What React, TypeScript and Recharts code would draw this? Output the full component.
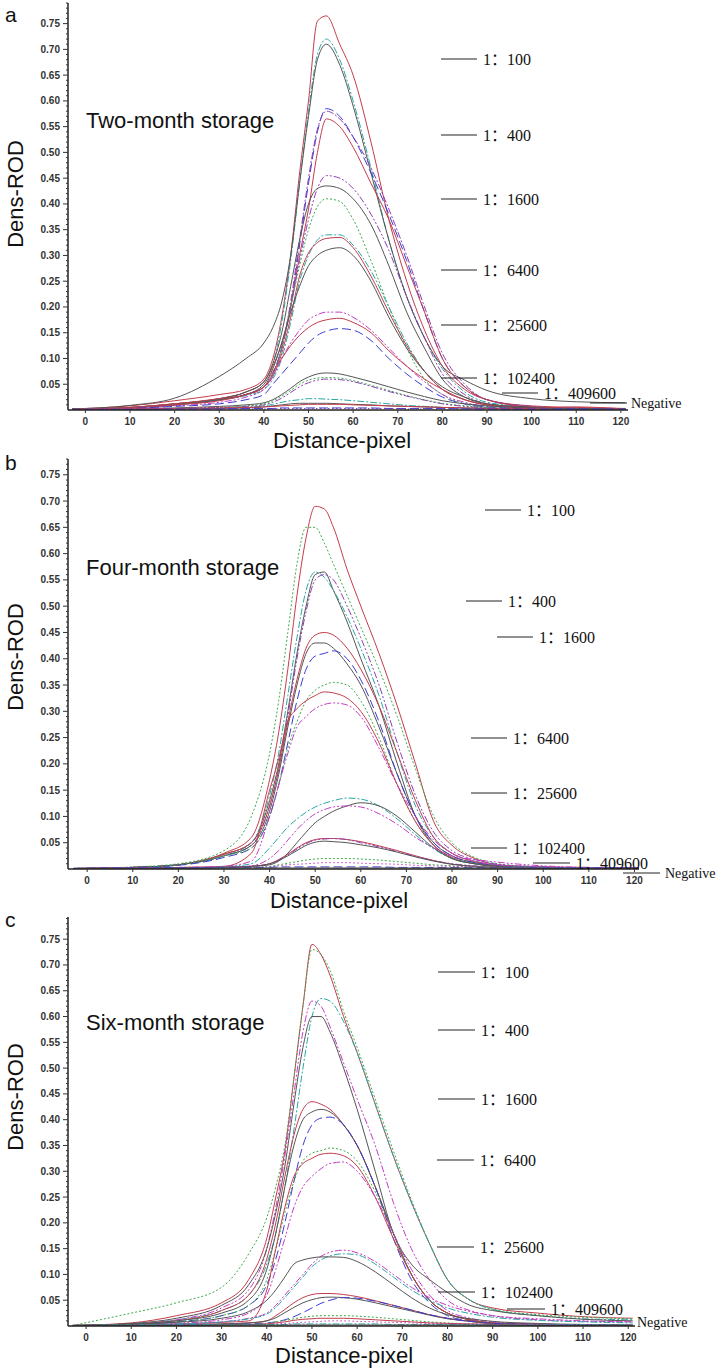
import React from 'react';
import { LineChart, Line, XAxis, YAxis } from 'recharts';

// distance (pixel) sample points shared by every curve
const distance = [-3, 10, 20, 30, 36, 40, 42, 44, 46, 48, 50, 52, 54, 57, 60, 64, 68, 72, 76, 80, 85, 90, 100, 110, 121];

const xTickLabels = [0, 10, 20, 30, 40, 50, 60, 70, 80, 90, 100, 110, 120];
const yTickLabels = [0.05, 0.1, 0.15, 0.2, 0.25, 0.3, 0.35, 0.4, 0.45, 0.5, 0.55, 0.6, 0.65, 0.7, 0.75];
const dilutionLabels = ['1：100', '1：400', '1：1600', '1：6400', '1：25600', '1：102400', '1：409600', 'Negative'];
const panelTitles = ['Two-month storage', 'Four-month storage', 'Six-month storage'];
const panelLetters = ['a', 'b', 'c'];

// ---- a: two-month storage ----
const a100Red = [0.002, 0.008, 0.018, 0.03, 0.04, 0.06, 0.1, 0.18, 0.3, 0.46, 0.6, 0.755, 0.765, 0.71, 0.65, 0.52, 0.37, 0.25, 0.155, 0.085, 0.04, 0.02, 0.008, 0.005, 0.003];
const a100Teal = [0.001, 0.005, 0.012, 0.022, 0.035, 0.055, 0.09, 0.17, 0.29, 0.44, 0.58, 0.69, 0.72, 0.68, 0.6, 0.47, 0.33, 0.22, 0.14, 0.08, 0.035, 0.015, 0.006, 0.003, 0.002];
const a100Gray = [0.002, 0.009, 0.023, 0.065, 0.1, 0.13, 0.16, 0.21, 0.3, 0.44, 0.57, 0.68, 0.71, 0.67, 0.59, 0.46, 0.33, 0.22, 0.14, 0.085, 0.058, 0.038, 0.022, 0.016, 0.014];
const a400Blue = [0.001, 0.004, 0.01, 0.02, 0.03, 0.045, 0.07, 0.12, 0.2, 0.32, 0.44, 0.54, 0.585, 0.57, 0.53, 0.46, 0.38, 0.29, 0.19, 0.1, 0.045, 0.02, 0.006, 0.003, 0.002];
const a400Purple = [0.001, 0.004, 0.01, 0.02, 0.03, 0.045, 0.07, 0.12, 0.21, 0.33, 0.45, 0.545, 0.58, 0.565, 0.53, 0.47, 0.39, 0.3, 0.2, 0.11, 0.05, 0.02, 0.007, 0.003, 0.002];
const a400Red = [0.001, 0.005, 0.012, 0.022, 0.035, 0.055, 0.085, 0.13, 0.2, 0.3, 0.39, 0.5, 0.565, 0.55, 0.51, 0.44, 0.37, 0.28, 0.19, 0.1, 0.045, 0.02, 0.006, 0.003, 0.002];
const a1600Purple = [0.001, 0.004, 0.01, 0.02, 0.03, 0.045, 0.07, 0.12, 0.2, 0.29, 0.37, 0.43, 0.455, 0.45, 0.43, 0.38, 0.31, 0.22, 0.14, 0.07, 0.03, 0.012, 0.004, 0.002, 0.001];
const a1600Gray = [0.002, 0.005, 0.012, 0.022, 0.035, 0.055, 0.09, 0.15, 0.24, 0.33, 0.4, 0.43, 0.435, 0.43, 0.41, 0.36, 0.28, 0.19, 0.12, 0.06, 0.025, 0.012, 0.005, 0.003, 0.002];
const a1600Green = [0.001, 0.004, 0.01, 0.02, 0.03, 0.045, 0.07, 0.12, 0.2, 0.28, 0.35, 0.395, 0.41, 0.405, 0.37, 0.29, 0.2, 0.12, 0.06, 0.03, 0.012, 0.005, 0.002, 0.001, 0.001];
const a6400Teal = [0.001, 0.004, 0.01, 0.02, 0.028, 0.04, 0.06, 0.1, 0.17, 0.25, 0.3, 0.33, 0.34, 0.34, 0.32, 0.27, 0.2, 0.13, 0.075, 0.04, 0.02, 0.01, 0.004, 0.002, 0.001];
const a6400Red = [0.001, 0.005, 0.012, 0.022, 0.03, 0.045, 0.065, 0.11, 0.18, 0.26, 0.305, 0.325, 0.333, 0.335, 0.315, 0.26, 0.19, 0.125, 0.075, 0.04, 0.02, 0.01, 0.004, 0.002, 0.001];
const a6400Gray = [0.001, 0.004, 0.01, 0.02, 0.03, 0.05, 0.08, 0.13, 0.19, 0.24, 0.28, 0.3, 0.31, 0.315, 0.3, 0.25, 0.18, 0.12, 0.075, 0.045, 0.025, 0.012, 0.005, 0.003, 0.002];
const a25600Purple = [0.001, 0.003, 0.008, 0.015, 0.025, 0.04, 0.065, 0.1, 0.13, 0.155, 0.175, 0.185, 0.19, 0.19, 0.18, 0.155, 0.12, 0.085, 0.055, 0.03, 0.015, 0.007, 0.003, 0.002, 0.001];
const a25600Red = [0.001, 0.004, 0.01, 0.018, 0.03, 0.045, 0.075, 0.1, 0.125, 0.145, 0.16, 0.17, 0.175, 0.178, 0.17, 0.15, 0.115, 0.085, 0.06, 0.04, 0.02, 0.01, 0.004, 0.002, 0.001];
const a25600Blue = [0.001, 0.003, 0.007, 0.012, 0.02, 0.03, 0.05, 0.07, 0.09, 0.11, 0.13, 0.145, 0.153, 0.158, 0.155, 0.135, 0.1, 0.07, 0.045, 0.025, 0.012, 0.006, 0.003, 0.002, 0.001];
const a102400Gray = [0.001, 0.002, 0.004, 0.007, 0.01, 0.014, 0.02, 0.03, 0.042, 0.055, 0.064, 0.07, 0.072, 0.07, 0.064, 0.055, 0.045, 0.035, 0.026, 0.018, 0.012, 0.008, 0.004, 0.002, 0.001];
const a102400Green = [0.001, 0.002, 0.003, 0.005, 0.008, 0.012, 0.018, 0.027, 0.038, 0.05, 0.058, 0.062, 0.063, 0.062, 0.057, 0.048, 0.038, 0.028, 0.02, 0.013, 0.008, 0.005, 0.002, 0.001, 0.001];
const a102400Purple = [0.001, 0.002, 0.003, 0.005, 0.007, 0.01, 0.015, 0.023, 0.034, 0.045, 0.053, 0.058, 0.06, 0.059, 0.055, 0.046, 0.036, 0.027, 0.019, 0.012, 0.007, 0.004, 0.002, 0.001, 0.001];
const a409600Teal = [0, 0.001, 0.002, 0.003, 0.005, 0.008, 0.011, 0.015, 0.018, 0.02, 0.022, 0.022, 0.021, 0.02, 0.018, 0.015, 0.012, 0.009, 0.007, 0.005, 0.003, 0.002, 0.001, 0.001, 0.001];
const a409600Gray = [0, 0.001, 0.002, 0.003, 0.004, 0.006, 0.008, 0.01, 0.012, 0.013, 0.013, 0.013, 0.013, 0.012, 0.011, 0.01, 0.008, 0.007, 0.006, 0.005, 0.004, 0.003, 0.002, 0.002, 0.002];
const a409600Red = [0.001, 0.002, 0.003, 0.004, 0.005, 0.006, 0.007, 0.008, 0.009, 0.01, 0.011, 0.011, 0.011, 0.011, 0.01, 0.009, 0.008, 0.007, 0.006, 0.005, 0.004, 0.003, 0.003, 0.006, 0.002];
const aNegBlue = [0.001, 0.001, 0.002, 0.002, 0.003, 0.003, 0.003, 0.004, 0.004, 0.004, 0.004, 0.004, 0.004, 0.004, 0.004, 0.004, 0.003, 0.003, 0.003, 0.003, 0.002, 0.002, 0.002, 0.002, 0.002];
const aNegPurple = [0.001, 0.002, 0.002, 0.002, 0.002, 0.002, 0.002, 0.003, 0.003, 0.003, 0.003, 0.003, 0.003, 0.003, 0.003, 0.003, 0.003, 0.002, 0.002, 0.002, 0.002, 0.002, 0.001, 0.001, 0.001];

// ---- b: four-month storage ----
const b100Red = [0.001, 0.003, 0.008, 0.03, 0.06, 0.17, 0.26, 0.38, 0.52, 0.63, 0.69, 0.685, 0.65, 0.57, 0.5, 0.41, 0.31, 0.2, 0.09, 0.045, 0.02, 0.008, 0.004, 0.003, 0.002];
const b100Green = [0.001, 0.004, 0.01, 0.035, 0.1, 0.22, 0.32, 0.45, 0.58, 0.65, 0.65, 0.62, 0.58, 0.52, 0.46, 0.38, 0.29, 0.19, 0.1, 0.05, 0.022, 0.01, 0.004, 0.002, 0.001];
const b400Gray = [0.001, 0.003, 0.008, 0.028, 0.05, 0.13, 0.2, 0.3, 0.41, 0.5, 0.56, 0.565, 0.53, 0.47, 0.4, 0.31, 0.2, 0.1, 0.045, 0.02, 0.01, 0.005, 0.003, 0.002, 0.001];
const b400Teal = [0.001, 0.003, 0.008, 0.025, 0.05, 0.14, 0.22, 0.33, 0.44, 0.53, 0.565, 0.555, 0.53, 0.48, 0.42, 0.33, 0.22, 0.12, 0.06, 0.03, 0.015, 0.007, 0.003, 0.002, 0.001];
const b400Purple = [0.001, 0.003, 0.008, 0.025, 0.045, 0.12, 0.19, 0.29, 0.4, 0.49, 0.55, 0.56, 0.55, 0.5, 0.44, 0.35, 0.24, 0.14, 0.07, 0.035, 0.018, 0.009, 0.004, 0.002, 0.001];
const b1600Red = [0.001, 0.003, 0.008, 0.028, 0.05, 0.12, 0.19, 0.28, 0.36, 0.42, 0.445, 0.45, 0.445, 0.42, 0.38, 0.31, 0.22, 0.13, 0.06, 0.03, 0.014, 0.006, 0.003, 0.002, 0.001];
const b1600Gray = [0.001, 0.003, 0.008, 0.025, 0.045, 0.11, 0.18, 0.27, 0.35, 0.41, 0.43, 0.43, 0.42, 0.39, 0.35, 0.27, 0.18, 0.1, 0.05, 0.025, 0.012, 0.006, 0.003, 0.002, 0.001];
const b1600Blue = [0.001, 0.003, 0.007, 0.022, 0.04, 0.1, 0.16, 0.24, 0.32, 0.38, 0.405, 0.41, 0.415, 0.4, 0.36, 0.28, 0.18, 0.1, 0.05, 0.025, 0.012, 0.006, 0.003, 0.002, 0.001];
const b6400Green = [0.001, 0.003, 0.008, 0.025, 0.04, 0.1, 0.16, 0.23, 0.28, 0.32, 0.34, 0.35, 0.355, 0.35, 0.32, 0.25, 0.16, 0.09, 0.045, 0.022, 0.01, 0.005, 0.003, 0.002, 0.001];
const b6400Red = [0.001, 0.002, 0.003, 0.005, 0.03, 0.15, 0.21, 0.28, 0.305, 0.32, 0.33, 0.337, 0.335, 0.325, 0.3, 0.24, 0.16, 0.09, 0.045, 0.022, 0.01, 0.005, 0.002, 0.001, 0.001];
const b6400Purple = [0.001, 0.002, 0.003, 0.005, 0.015, 0.1, 0.16, 0.22, 0.27, 0.29, 0.305, 0.313, 0.316, 0.312, 0.29, 0.23, 0.16, 0.1, 0.055, 0.03, 0.015, 0.008, 0.004, 0.002, 0.001];
const b25600Teal = [0, 0.001, 0.002, 0.004, 0.01, 0.04, 0.06, 0.08, 0.095, 0.108, 0.118, 0.125, 0.13, 0.135, 0.133, 0.12, 0.095, 0.065, 0.038, 0.02, 0.01, 0.005, 0.003, 0.002, 0.001];
const b25600Gray = [0, 0.001, 0.002, 0.003, 0.005, 0.008, 0.015, 0.03, 0.05, 0.07, 0.088, 0.1, 0.11, 0.12, 0.126, 0.12, 0.1, 0.07, 0.04, 0.02, 0.01, 0.005, 0.002, 0.001, 0.001];
const b25600Purple = [0, 0.001, 0.002, 0.003, 0.006, 0.02, 0.035, 0.055, 0.075, 0.092, 0.105, 0.113, 0.118, 0.12, 0.118, 0.105, 0.085, 0.06, 0.04, 0.025, 0.018, 0.013, 0.006, 0.003, 0.002];
const b102400Red = [0, 0.001, 0.002, 0.003, 0.005, 0.01, 0.018, 0.028, 0.04, 0.05, 0.056, 0.058, 0.058, 0.056, 0.052, 0.044, 0.035, 0.025, 0.016, 0.009, 0.005, 0.003, 0.002, 0.001, 0.001];
const b102400Purple = [0, 0.001, 0.002, 0.003, 0.005, 0.01, 0.017, 0.027, 0.038, 0.048, 0.055, 0.057, 0.058, 0.056, 0.05, 0.042, 0.033, 0.024, 0.016, 0.01, 0.006, 0.003, 0.002, 0.001, 0.001];
const b102400Gray = [0, 0.001, 0.002, 0.003, 0.005, 0.01, 0.016, 0.025, 0.035, 0.045, 0.051, 0.053, 0.052, 0.05, 0.046, 0.04, 0.032, 0.023, 0.015, 0.009, 0.005, 0.003, 0.002, 0.001, 0.001];
const b409600Green = [0, 0.001, 0.001, 0.002, 0.003, 0.005, 0.008, 0.011, 0.014, 0.017, 0.019, 0.02, 0.02, 0.02, 0.019, 0.017, 0.014, 0.011, 0.008, 0.006, 0.004, 0.003, 0.002, 0.001, 0.001];
const b409600Magenta = [0, 0.001, 0.001, 0.002, 0.003, 0.004, 0.006, 0.008, 0.009, 0.01, 0.011, 0.012, 0.012, 0.012, 0.011, 0.01, 0.009, 0.007, 0.006, 0.005, 0.004, 0.003, 0.002, 0.001, 0.001];
const bNegBlue = [0.001, 0.002, 0.002, 0.003, 0.003, 0.003, 0.004, 0.004, 0.004, 0.004, 0.004, 0.004, 0.004, 0.004, 0.004, 0.004, 0.003, 0.003, 0.003, 0.003, 0.003, 0.002, 0.002, 0.002, 0.002];
const bNegGray = [0.001, 0.001, 0.001, 0.002, 0.002, 0.002, 0.002, 0.002, 0.002, 0.002, 0.002, 0.002, 0.002, 0.002, 0.002, 0.002, 0.002, 0.002, 0.002, 0.002, 0.002, 0.002, 0.001, 0.001, 0.001];

// ---- c: six-month storage ----
const c100Red = [0.001, 0.006, 0.02, 0.045, 0.09, 0.17, 0.25, 0.34, 0.48, 0.62, 0.74, 0.72, 0.68, 0.6, 0.53, 0.43, 0.33, 0.24, 0.16, 0.09, 0.05, 0.035, 0.025, 0.018, 0.015];
const c100Green = [0.001, 0.025, 0.045, 0.075, 0.14, 0.21, 0.27, 0.35, 0.48, 0.62, 0.73, 0.72, 0.69, 0.61, 0.54, 0.44, 0.34, 0.245, 0.16, 0.09, 0.05, 0.033, 0.022, 0.017, 0.014];
const c400Teal = [0.001, 0.004, 0.012, 0.03, 0.06, 0.12, 0.18, 0.27, 0.38, 0.5, 0.6, 0.635, 0.63, 0.59, 0.53, 0.43, 0.33, 0.24, 0.16, 0.09, 0.05, 0.032, 0.02, 0.014, 0.012];
const c400Purple = [0.001, 0.004, 0.012, 0.035, 0.07, 0.15, 0.23, 0.33, 0.45, 0.57, 0.63, 0.62, 0.58, 0.51, 0.44, 0.35, 0.24, 0.15, 0.09, 0.05, 0.03, 0.02, 0.012, 0.009, 0.008];
const c400Gray = [0.001, 0.005, 0.015, 0.04, 0.08, 0.15, 0.22, 0.31, 0.43, 0.54, 0.6, 0.6, 0.57, 0.5, 0.42, 0.3, 0.18, 0.12, 0.09, 0.065, 0.04, 0.03, 0.02, 0.013, 0.01];
const c1600Red = [0.001, 0.004, 0.01, 0.03, 0.06, 0.13, 0.2, 0.29, 0.37, 0.42, 0.435, 0.43, 0.42, 0.39, 0.35, 0.27, 0.18, 0.1, 0.05, 0.025, 0.012, 0.006, 0.003, 0.002, 0.001];
const c1600Gray = [0.001, 0.004, 0.01, 0.025, 0.05, 0.11, 0.18, 0.27, 0.35, 0.4, 0.415, 0.42, 0.415, 0.39, 0.35, 0.27, 0.18, 0.1, 0.05, 0.025, 0.012, 0.006, 0.003, 0.002, 0.001];
const c1600Blue = [0.001, 0.003, 0.008, 0.02, 0.04, 0.08, 0.13, 0.2, 0.28, 0.35, 0.39, 0.403, 0.405, 0.39, 0.35, 0.27, 0.17, 0.09, 0.045, 0.02, 0.01, 0.005, 0.003, 0.002, 0.001];
const c6400Green = [0.001, 0.003, 0.008, 0.02, 0.04, 0.09, 0.15, 0.22, 0.28, 0.32, 0.335, 0.34, 0.345, 0.34, 0.32, 0.26, 0.18, 0.1, 0.05, 0.025, 0.012, 0.006, 0.003, 0.002, 0.001];
const c6400Red = [0.001, 0.002, 0.004, 0.007, 0.01, 0.07, 0.15, 0.23, 0.29, 0.315, 0.325, 0.333, 0.335, 0.33, 0.31, 0.25, 0.17, 0.1, 0.05, 0.025, 0.012, 0.006, 0.003, 0.002, 0.001];
const c6400Purple = [0.001, 0.002, 0.005, 0.012, 0.025, 0.06, 0.11, 0.17, 0.23, 0.27, 0.29, 0.305, 0.315, 0.318, 0.3, 0.25, 0.18, 0.11, 0.06, 0.03, 0.015, 0.008, 0.004, 0.002, 0.001];
const c25600Purple = [0, 0.002, 0.004, 0.008, 0.015, 0.025, 0.04, 0.06, 0.08, 0.1, 0.12, 0.135, 0.143, 0.147, 0.142, 0.125, 0.1, 0.075, 0.055, 0.04, 0.028, 0.02, 0.014, 0.01, 0.008];
const c25600Teal = [0, 0.002, 0.004, 0.008, 0.014, 0.023, 0.036, 0.055, 0.075, 0.095, 0.115, 0.128, 0.136, 0.14, 0.138, 0.12, 0.095, 0.07, 0.05, 0.035, 0.024, 0.017, 0.011, 0.008, 0.006];
const c25600Gray = [0.001, 0.003, 0.007, 0.015, 0.028, 0.05, 0.07, 0.095, 0.12, 0.128, 0.132, 0.134, 0.134, 0.133, 0.125, 0.105, 0.08, 0.055, 0.035, 0.022, 0.014, 0.009, 0.005, 0.003, 0.002];
const c102400Red = [0, 0.001, 0.002, 0.004, 0.006, 0.01, 0.02, 0.032, 0.045, 0.055, 0.061, 0.063, 0.063, 0.061, 0.057, 0.049, 0.04, 0.031, 0.022, 0.015, 0.009, 0.005, 0.003, 0.002, 0.001];
const c102400Gray = [0, 0.001, 0.002, 0.004, 0.006, 0.01, 0.016, 0.026, 0.036, 0.045, 0.051, 0.055, 0.056, 0.055, 0.052, 0.045, 0.037, 0.029, 0.021, 0.014, 0.009, 0.005, 0.003, 0.002, 0.001];
const c102400Blue = [0, 0.001, 0.002, 0.003, 0.004, 0.006, 0.008, 0.012, 0.018, 0.026, 0.035, 0.044, 0.05, 0.055, 0.054, 0.048, 0.04, 0.031, 0.022, 0.015, 0.009, 0.005, 0.003, 0.002, 0.001];
const c409600Green = [0, 0.001, 0.001, 0.002, 0.003, 0.005, 0.008, 0.011, 0.014, 0.017, 0.019, 0.02, 0.02, 0.02, 0.019, 0.017, 0.014, 0.011, 0.008, 0.006, 0.004, 0.003, 0.002, 0.001, 0.001];
const c409600Red = [0, 0.001, 0.001, 0.002, 0.003, 0.004, 0.006, 0.008, 0.011, 0.013, 0.014, 0.015, 0.015, 0.015, 0.014, 0.012, 0.01, 0.008, 0.006, 0.005, 0.004, 0.003, 0.002, 0.001, 0.001];
const c409600Magenta = [0, 0.001, 0.001, 0.002, 0.002, 0.003, 0.004, 0.005, 0.006, 0.007, 0.008, 0.009, 0.01, 0.01, 0.009, 0.008, 0.007, 0.006, 0.005, 0.004, 0.004, 0.003, 0.003, 0.002, 0.002];
const cNegTeal = [0.001, 0.002, 0.002, 0.003, 0.003, 0.003, 0.003, 0.003, 0.004, 0.004, 0.004, 0.004, 0.004, 0.004, 0.004, 0.004, 0.003, 0.003, 0.003, 0.003, 0.003, 0.002, 0.002, 0.002, 0.002];
const cNegGray = [0.001, 0.001, 0.001, 0.002, 0.002, 0.002, 0.002, 0.002, 0.002, 0.002, 0.002, 0.002, 0.002, 0.002, 0.002, 0.002, 0.002, 0.002, 0.002, 0.002, 0.002, 0.002, 0.001, 0.001, 0.001];

const RED = '#c43c4c';
const GRAY = '#555555';
const GREEN = '#3cab4c';
const TEAL = '#2ba7a3';
const BLUE = '#3c3cd2';
const PURPLE = '#8e3fb4';
const MAGENTA = '#c43cc4';

const DOT = '2 2';
const DASHDOT = '7 2 2 2';
const DASH = '9 4';
const DASHDOTDOT = '7 2 2 2 2 2';
const FINE = '1.5 2.5';

type Series = { key: string; values: number[]; color: string; dash?: string };

const twoMonth: Series[] = [
  { key: 'r100', values: a100Red, color: RED },
  { key: 't100', values: a100Teal, color: TEAL, dash: DASHDOT },
  { key: 'g100', values: a100Gray, color: GRAY },
  { key: 'b400', values: a400Blue, color: BLUE, dash: DASH },
  { key: 'p400', values: a400Purple, color: PURPLE, dash: DASHDOT },
  { key: 'r400', values: a400Red, color: RED },
  { key: 'p1600', values: a1600Purple, color: PURPLE, dash: DASHDOTDOT },
  { key: 'g1600', values: a1600Gray, color: GRAY },
  { key: 'n1600', values: a1600Green, color: GREEN, dash: DOT },
  { key: 't6400', values: a6400Teal, color: TEAL, dash: DASHDOT },
  { key: 'r6400', values: a6400Red, color: RED },
  { key: 'g6400', values: a6400Gray, color: GRAY },
  { key: 'p25600', values: a25600Purple, color: MAGENTA, dash: DASHDOTDOT },
  { key: 'r25600', values: a25600Red, color: RED },
  { key: 'b25600', values: a25600Blue, color: BLUE, dash: DASH },
  { key: 'g102400', values: a102400Gray, color: GRAY },
  { key: 'n102400', values: a102400Green, color: GREEN, dash: DOT },
  { key: 'p102400', values: a102400Purple, color: PURPLE, dash: DASHDOTDOT },
  { key: 't409600', values: a409600Teal, color: TEAL, dash: DASHDOT },
  { key: 'g409600', values: a409600Gray, color: GRAY },
  { key: 'r409600', values: a409600Red, color: RED },
  { key: 'bneg', values: aNegBlue, color: BLUE, dash: DASH },
  { key: 'pneg', values: aNegPurple, color: PURPLE, dash: FINE },
];

const fourMonth: Series[] = [
  { key: 'r100', values: b100Red, color: RED },
  { key: 'n100', values: b100Green, color: GREEN, dash: DOT },
  { key: 'g400', values: b400Gray, color: GRAY },
  { key: 't400', values: b400Teal, color: TEAL, dash: DASHDOT },
  { key: 'p400', values: b400Purple, color: PURPLE, dash: DASHDOTDOT },
  { key: 'r1600', values: b1600Red, color: RED },
  { key: 'g1600', values: b1600Gray, color: GRAY },
  { key: 'b1600', values: b1600Blue, color: BLUE, dash: DASH },
  { key: 'n6400', values: b6400Green, color: GREEN, dash: DOT },
  { key: 'r6400', values: b6400Red, color: RED },
  { key: 'p6400', values: b6400Purple, color: MAGENTA, dash: DASHDOTDOT },
  { key: 't25600', values: b25600Teal, color: TEAL, dash: DASHDOT },
  { key: 'g25600', values: b25600Gray, color: GRAY },
  { key: 'p25600', values: b25600Purple, color: MAGENTA, dash: DASHDOTDOT },
  { key: 'r102400', values: b102400Red, color: RED },
  { key: 'p102400', values: b102400Purple, color: PURPLE, dash: DASHDOTDOT },
  { key: 'g102400', values: b102400Gray, color: GRAY },
  { key: 'n409600', values: b409600Green, color: GREEN, dash: DOT },
  { key: 'm409600', values: b409600Magenta, color: MAGENTA, dash: FINE },
  { key: 'bneg', values: bNegBlue, color: BLUE, dash: DASH },
  { key: 'gneg', values: bNegGray, color: GRAY },
];

const sixMonth: Series[] = [
  { key: 'r100', values: c100Red, color: RED },
  { key: 'n100', values: c100Green, color: GREEN, dash: DOT },
  { key: 't400', values: c400Teal, color: TEAL, dash: DASHDOT },
  { key: 'p400', values: c400Purple, color: MAGENTA, dash: DASHDOTDOT },
  { key: 'g400', values: c400Gray, color: GRAY },
  { key: 'r1600', values: c1600Red, color: RED },
  { key: 'g1600', values: c1600Gray, color: GRAY },
  { key: 'b1600', values: c1600Blue, color: BLUE, dash: DASH },
  { key: 'n6400', values: c6400Green, color: GREEN, dash: DOT },
  { key: 'r6400', values: c6400Red, color: RED },
  { key: 'p6400', values: c6400Purple, color: MAGENTA, dash: DASHDOTDOT },
  { key: 'p25600', values: c25600Purple, color: MAGENTA, dash: DASHDOTDOT },
  { key: 't25600', values: c25600Teal, color: TEAL, dash: DASHDOT },
  { key: 'g25600', values: c25600Gray, color: GRAY },
  { key: 'r102400', values: c102400Red, color: RED },
  { key: 'g102400', values: c102400Gray, color: GRAY },
  { key: 'b102400', values: c102400Blue, color: BLUE, dash: DASH },
  { key: 'n409600', values: c409600Green, color: GREEN, dash: DOT },
  { key: 'r409600', values: c409600Red, color: RED },
  { key: 'm409600', values: c409600Magenta, color: MAGENTA, dash: FINE },
  { key: 'tneg', values: cNegTeal, color: TEAL, dash: DASHDOT },
  { key: 'gneg', values: cNegGray, color: GRAY },
];

const SANS = '"Liberation Sans", Arial, sans-serif';
const SERIF = '"Liberation Serif", "Times New Roman", "Noto Sans CJK SC", serif';
const AXIS_X = 68;
const Y_AXIS_W = 40;

// label positions for the dilution notes: [y, lineStart, lineEnd]
type Note = [number, number, number];

type PanelCfg = {
  series: Series[];
  plotTop: number;
  baseline: number;
  plotRight: number;
  xDomain: [number, number];
  yMax: number;
  letterY: number;
  titleY: number;
  yLabelY: number;
  xLabelX: number;
  xLabelY: number;
  notes: Note[];
  negX: number;
};

const panels: PanelCfg[] = [
  {
    series: twoMonth, plotTop: 3, baseline: 410, plotRight: 628, xDomain: [-3.9, 121.6], yMax: 0.79,
    letterY: 22, titleY: 128, yLabelY: 194, xLabelX: 273, xLabelY: 448, negX: 631,
    notes: [[59, 441, 477], [135, 441, 477], [199, 441, 477], [270, 441, 477], [325, 441, 477], [378, 441, 477], [393, 502, 538], [403, 590, 627]],
  },
  {
    series: fourMonth, plotTop: 459, baseline: 869, plotRight: 639, xDomain: [-4.2, 121], yMax: 0.78,
    letterY: 470, titleY: 575, yLabelY: 657, xLabelX: 270, xLabelY: 908, negX: 665,
    notes: [[510, 485, 521], [601, 466, 502], [637, 497, 533], [738, 471, 507], [793, 471, 507], [848, 471, 507], [863, 533, 570], [873, 623, 660]],
  },
  {
    series: sixMonth, plotTop: 917, baseline: 1326, plotRight: 635, xDomain: [-4, 121.5], yMax: 0.793,
    letterY: 927, titleY: 1030, yLabelY: 1097, xLabelX: 275, xLabelY: 1363, negX: 637,
    notes: [[972, 438, 475], [1030, 438, 475], [1099, 438, 475], [1160, 437, 474], [1247, 437, 474], [1292, 438, 475], [1309, 507, 545], [1322, 0, 0]],
  },
];

const majorSet = new Set(yTickLabels.map(v => Math.round(v * 100)));

const YTick = (props: any) => {
  const { x, y, payload } = props;
  const major = majorSet.has(Math.round(payload.value * 100));
  const axisX = x + 8;
  return (
    <g>
      <line x1={axisX - (major ? 5 : 2)} x2={axisX} y1={y} y2={y} stroke="#333" strokeWidth={1} />
      {major && (
        <text x={x} y={y} dy="0.35em" textAnchor="end" fontSize={10} fontWeight="bold" fill="#333" fontFamily={SANS}>
          {payload.value.toFixed(2)}
        </text>
      )}
    </g>
  );
};

const Panel = ({ cfg }: { cfg: PanelCfg }) => {
  const rows = distance.map((x, i) => {
    const row: Record<string, number> = { x };
    cfg.series.forEach(s => { row[s.key] = s.values[i]; });
    return row;
  });
  const minorTicks = Array.from({ length: Math.floor(cfg.yMax * 100) }, (_, i) => (i + 1) / 100);
  const top = cfg.plotTop - 2;
  return (
    <div style={{ position: 'absolute', left: 0, top }}>
      <LineChart
        width={719}
        height={cfg.baseline - top + 30}
        data={rows}
        margin={{ top: 2, right: 719 - cfg.plotRight, bottom: 0, left: AXIS_X - Y_AXIS_W }}
      >
        <XAxis
          dataKey="x"
          type="number"
          domain={cfg.xDomain}
          allowDataOverflow
          ticks={xTickLabels}
          interval={0}
          height={30}
          tickSize={3}
          tickMargin={5}
          axisLine={{ stroke: '#222', strokeWidth: 1.5 }}
          tickLine={{ stroke: '#333' }}
          tick={{ fontSize: 10, fontWeight: 'bold', fill: '#333', fontFamily: SANS }}
        />
        <YAxis
          type="number"
          domain={[0, cfg.yMax]}
          allowDataOverflow
          ticks={minorTicks}
          interval={0}
          width={Y_AXIS_W}
          tickSize={5}
          tickMargin={3}
          tickLine={false}
          axisLine={{ stroke: '#222', strokeWidth: 1.5 }}
          tick={<YTick />}
        />
        {cfg.series.map(s => (
          <Line
            key={s.key}
            type="monotone"
            dataKey={s.key}
            stroke={s.color}
            strokeWidth={1}
            strokeDasharray={s.dash}
            dot={false}
            activeDot={false}
            isAnimationActive={false}
          />
        ))}
      </LineChart>
    </div>
  );
};

const Notes = () => (
  <svg width={719} height={1370} style={{ position: 'absolute', left: 0, top: 0, pointerEvents: 'none' }}>
    {panels.map((cfg, p) => (
      <g key={p}>
        <text x={5} y={cfg.letterY} fontSize={21} fontFamily={SANS} fill="#111">{panelLetters[p]}</text>
        <text x={86} y={cfg.titleY} fontSize={22} fontFamily={SANS} fill="#111">{panelTitles[p]}</text>
        <text
          x={23}
          y={cfg.yLabelY}
          transform={`rotate(-90 23 ${cfg.yLabelY})`}
          textAnchor="middle"
          fontSize={22}
          fontFamily={SANS}
          fill="#111"
        >
          Dens-ROD
        </text>
        <text x={cfg.xLabelX} y={cfg.xLabelY} fontSize={22} fontFamily={SANS} fill="#111">Distance-pixel</text>
        {cfg.notes.map(([y, x1, x2], i) => {
          const neg = i === dilutionLabels.length - 1;
          return (
            <g key={i}>
              {x2 > x1 && <line x1={x1} x2={x2} y1={y} y2={y} stroke="#222" strokeWidth={1.2} />}
              <text
                x={neg ? cfg.negX : x2 + 6}
                y={y}
                dy="0.35em"
                fontSize={neg ? 14 : 16}
                fontFamily={SERIF}
                fill="#111"
              >
                {dilutionLabels[i]}
              </text>
            </g>
          );
        })}
      </g>
    ))}
  </svg>
);

export default function App() {
  return (
    <div style={{ position: 'absolute', left: 0, top: 0, width: 719, height: 1370, background: '#fff' }}>
      {panels.map((cfg, i) => <Panel key={i} cfg={cfg} />)}
      <Notes />
    </div>
  );
}
